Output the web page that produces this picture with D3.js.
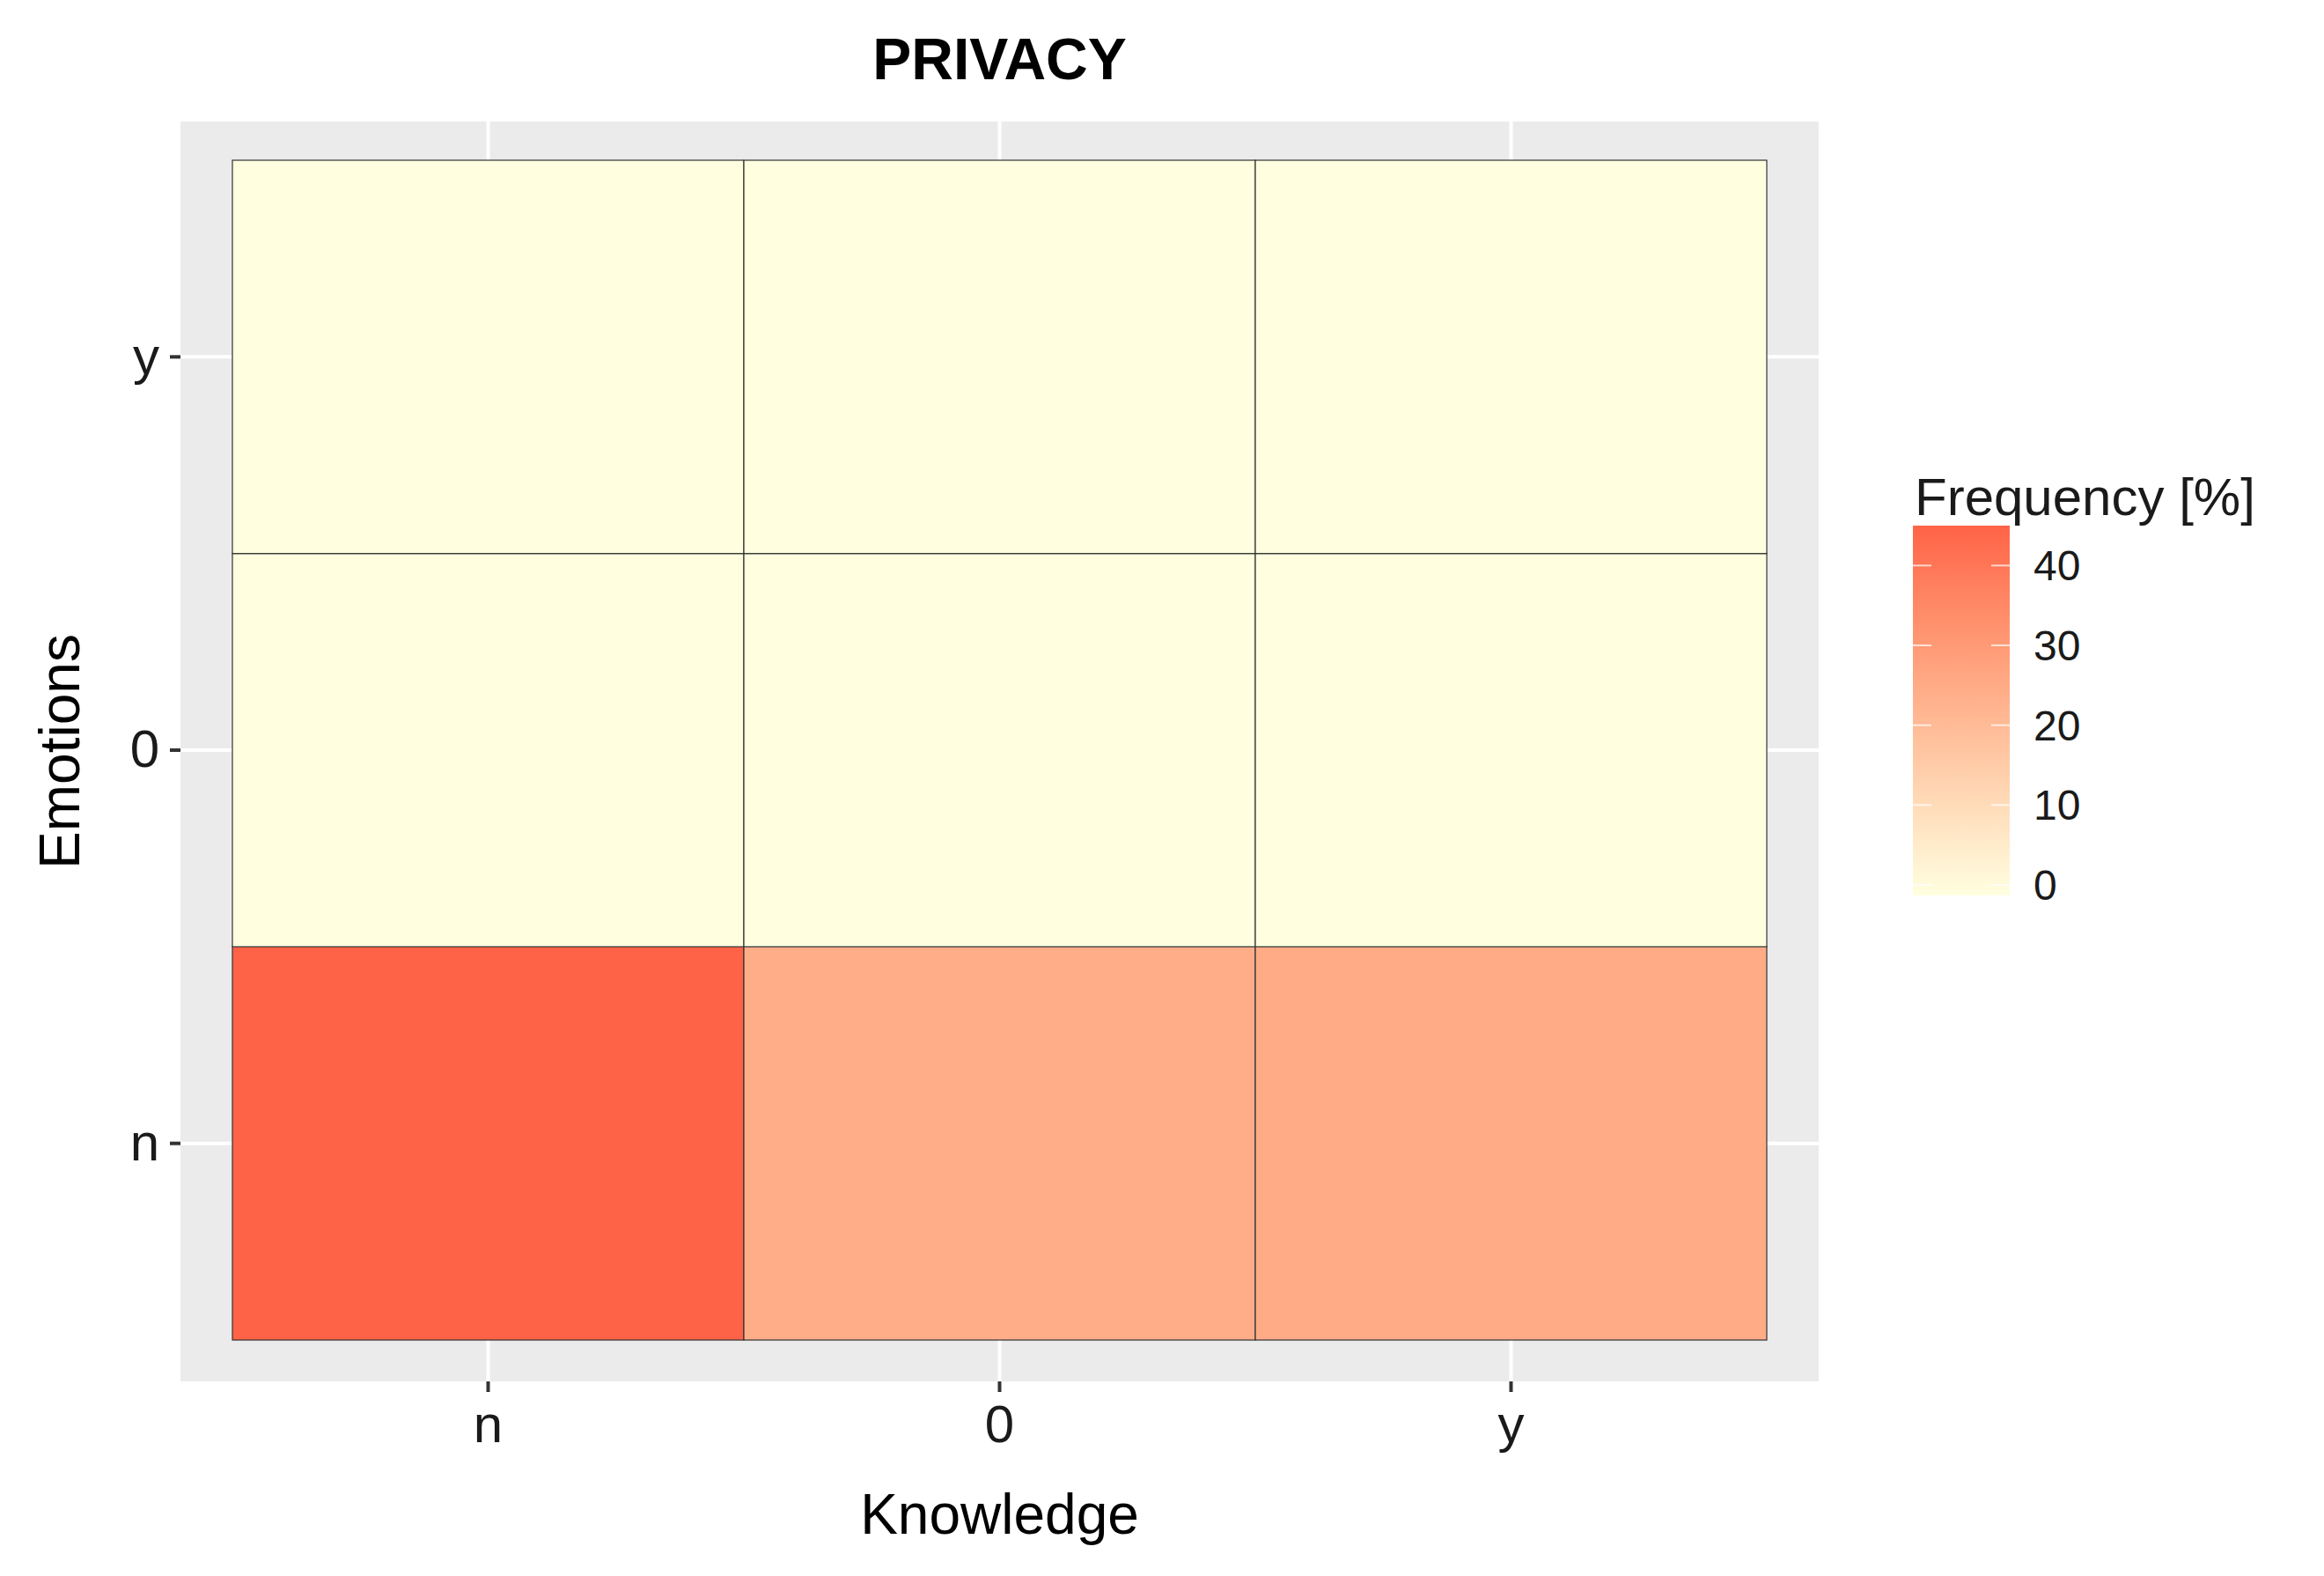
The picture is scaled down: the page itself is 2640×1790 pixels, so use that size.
<!DOCTYPE html>
<html><head><meta charset="utf-8">
<script src="https://cdn.jsdelivr.net/npm/d3@7"></script>
<style>body{margin:0;background:#fff}text{font-family:"Liberation Sans",Arial,sans-serif}</style>
</head><body><svg id="chart" width="2640" height="1790"></svg>
<script>
var knowledge = ["n", "0", "y"];
var emotions = ["n", "0", "y"];
// frequency [%] per cell, rows = emotions, cols = knowledge
var freqN = [45, 25, 25.5];
var freq0 = [0.2, 0.1, 0.2];
var freqY = [0.1, 0.1, 0.1];
var legendTicks = [0, 10, 20, 30, 40];

var cells = [];
[freqN, freq0, freqY].forEach(function(row, i) {
    row.forEach(function(v, j) {
        cells.push({k: knowledge[j], e: emotions[i], v: v});
    });
});

var svg = d3.select("#chart");
var panel = {x0: 205, x1: 2066, y0: 138, y1: 1569};
var x = d3.scaleBand().domain(knowledge).range([264, 2007]);
var y = d3.scaleBand().domain(emotions).range([1522, 182]);
var color = d3.scaleLinear().domain([0, 45]).range(["#FFFFE0", "#FF6347"]).interpolate(d3.interpolateLab);

svg.append("rect").attr("x", panel.x0).attr("y", panel.y0)
    .attr("width", panel.x1 - panel.x0).attr("height", panel.y1 - panel.y0).attr("fill", "#EBEBEB");

knowledge.forEach(function(k) {
    var cx = x(k) + x.bandwidth() / 2;
    svg.append("line").attr("x1", cx).attr("x2", cx).attr("y1", panel.y0).attr("y2", panel.y1)
        .attr("stroke", "#fff").attr("stroke-width", 4);
});
emotions.forEach(function(e) {
    var cy = y(e) + y.bandwidth() / 2;
    svg.append("line").attr("x1", panel.x0).attr("x2", panel.x1).attr("y1", cy).attr("y2", cy)
        .attr("stroke", "#fff").attr("stroke-width", 4);
});

svg.selectAll("rect.cell").data(cells).enter().append("rect")
    .attr("x", function(d) { return x(d.k); })
    .attr("y", function(d) { return y(d.e); })
    .attr("width", x.bandwidth()).attr("height", y.bandwidth())
    .attr("fill", function(d) { return color(d.v); })
    .attr("stroke", "#333").attr("stroke-width", 1.2);

// axes
var xAxis = svg.append("g").attr("transform", "translate(0," + panel.y1 + ")")
    .call(d3.axisBottom(x).tickSize(12).tickPadding(14));
var yAxis = svg.append("g").attr("transform", "translate(" + panel.x0 + ",0)")
    .call(d3.axisLeft(y).tickSize(12).tickPadding(12));
[xAxis, yAxis].forEach(function(a) {
    a.select(".domain").remove();
    a.selectAll("line").attr("stroke", "#333").attr("stroke-width", 4);
    a.selectAll("text").attr("font-size", 60).attr("fill", "#1a1a1a");
});

svg.append("text").attr("x", (panel.x0 + panel.x1) / 2).attr("y", 90).attr("text-anchor", "middle")
    .attr("font-size", 66).attr("font-weight", "bold").text("PRIVACY");
svg.append("text").attr("x", (panel.x0 + panel.x1) / 2).attr("y", 1742).attr("text-anchor", "middle")
    .attr("font-size", 64).text("Knowledge");
svg.append("text").attr("transform", "translate(90," + (panel.y0 + panel.y1) / 2 + ") rotate(-90)")
    .attr("text-anchor", "middle").attr("font-size", 64).text("Emotions");

// legend
var ly = d3.scaleLinear().domain([0, 45]).range([1005, 597]);
var defs = svg.append("defs");
var grad = defs.append("linearGradient").attr("id", "g").attr("x1", 0).attr("x2", 0).attr("y1", 1).attr("y2", 0);
d3.range(0, 11).forEach(function(i) {
    grad.append("stop").attr("offset", i / 10).attr("stop-color", color(45 * i / 10));
});
svg.append("rect").attr("x", 2173).attr("y", ly(45)).attr("width", 110).attr("height", ly(0) - ly(45) + 12)
    .attr("fill", "url(#g)");
legendTicks.forEach(function(t) {
    svg.append("line").attr("x1", 2173).attr("x2", 2194).attr("y1", ly(t)).attr("y2", ly(t)).attr("stroke", "#fff").attr("stroke-width", 2).attr("opacity", 0.7);
    svg.append("line").attr("x1", 2262).attr("x2", 2283).attr("y1", ly(t)).attr("y2", ly(t)).attr("stroke", "#fff").attr("stroke-width", 2).attr("opacity", 0.7);
    svg.append("text").attr("x", 2310).attr("y", ly(t) + 17).attr("font-size", 48).attr("fill", "#1a1a1a").text(t);
});
svg.append("text").attr("x", 2175).attr("y", 585).attr("font-size", 60).attr("fill", "#1a1a1a").text("Frequency [%]");
</script></body></html>
